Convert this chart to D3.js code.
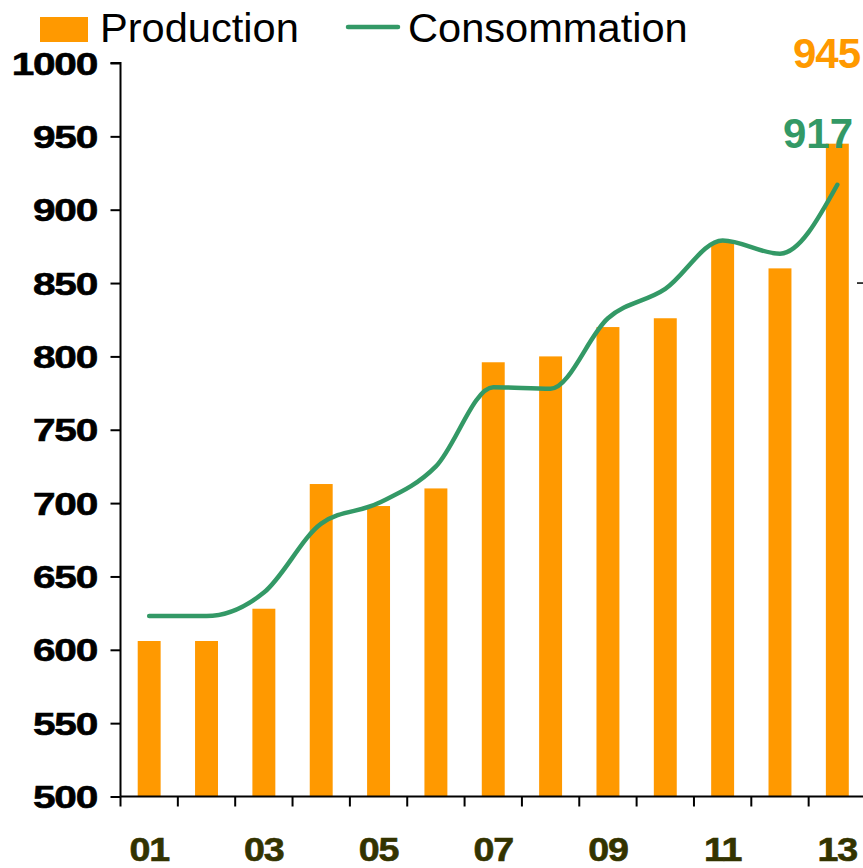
<!DOCTYPE html>
<html>
<head>
<meta charset="utf-8">
<script src="https://cdn.jsdelivr.net/npm/d3@7"></script>
<style>
  html, body { margin: 0; padding: 0; background: #fff; }
  svg { display: block; }
</style>
</head>
<body>
<svg id="chart" width="863" height="868"></svg>
<script>
// data
const years = ['01', '02', '03', '04', '05', '06', '07', '08', '09', '10', '11', '12', '13']
const production = [606, 606, 628, 713, 698, 710, 796, 800, 820, 826, 878, 860, 945]
const consommation = [623, 623, 639, 686, 700, 725, 779, 778, 826, 846, 879, 870, 917]
const yTicks = [500, 550, 600, 650, 700, 750, 800, 850, 900, 950, 1000]
const xLabels = ['01', '03', '05', '07', '09', '11', '13']

const ORANGE = '#FF9900'
const GREEN = '#339966'
const FONT = 'Liberation Sans, Arial, sans-serif'

const svg = d3.select('#chart')

const x = d3.scaleBand()
  .domain(years)
  .range([120.5, 866])
  .paddingInner(0.6)
  .paddingOuter(0.3)

const y = d3.scaleLinear()
  .domain([500, 1000])
  .range([796.5, 63])

const xCenter = (d) => x(d) + x.bandwidth() / 2

// bars
svg.append('g')
  .selectAll('rect')
  .data(years)
  .join('rect')
  .attr('x', (d) => x(d))
  .attr('width', x.bandwidth())
  .attr('y', (d, i) => y(production[i]))
  .attr('height', (d, i) => y(500) - y(production[i]))
  .attr('fill', ORANGE)

// smoothed consumption line
const line = d3.line()
  .x((d, i) => xCenter(years[i]))
  .y((d) => y(d))
  .curve(d3.curveMonotoneX)

svg.append('path')
  .datum(consommation)
  .attr('d', line)
  .attr('fill', 'none')
  .attr('stroke', GREEN)
  .attr('stroke-width', 4.5)
  .attr('stroke-linecap', 'round')

// y axis
const yAxis = svg.append('g')
  .attr('transform', `translate(${x.range()[0]},0)`)
  .call(d3.axisLeft(y).tickValues(yTicks).tickSize(10).tickFormat(''))
yAxis.selectAll('path, line').attr('stroke', '#000').attr('stroke-width', 2)
yAxis.select('.domain').attr('d', `M-10,${y(1000)}H0V${y(500)}`)

svg.append('g')
  .selectAll('text')
  .data(yTicks)
  .join('text')
  .attr('transform', (d) => `translate(97,${y(d)}) scale(1.27,1)`)
  .attr('text-anchor', 'end')
  .attr('dy', '0.36em')
  .attr('font-family', FONT)
  .attr('font-weight', 'bold')
  .attr('font-size', 32)
  .attr('letter-spacing', -1)
  .attr('fill', '#000')
  .attr('stroke', '#000')
  .attr('stroke-width', 0.6)
  .text((d) => d)

// x axis: ticks between categories
const xAxis = svg.append('g')
  .attr('transform', `translate(0,${y(500)})`)
const step = x.step()
const xEdges = d3.range(years.length + 1).map((i) => x.range()[0] + i * step)
xAxis.append('line')
  .attr('x1', x.range()[0]).attr('x2', x.range()[1])
  .attr('stroke', '#000').attr('stroke-width', 2)
xAxis.selectAll('line.tick')
  .data(xEdges)
  .join('line')
  .attr('class', 'tick')
  .attr('x1', (d) => d).attr('x2', (d) => d)
  .attr('y1', 0).attr('y2', 10)
  .attr('stroke', '#000').attr('stroke-width', 2)

svg.append('g')
  .selectAll('text')
  .data(xLabels)
  .join('text')
  .attr('transform', (d) => `translate(${xCenter(d)},861) scale(1.14,1)`)
  .attr('text-anchor', 'middle')
  .attr('font-family', FONT)
  .attr('font-weight', 'bold')
  .attr('font-size', 33)
  .attr('letter-spacing', -1)
  .attr('fill', '#333300')
  .attr('stroke', '#333300')
  .attr('stroke-width', 0.6)
  .text((d) => d)

// stray right tick at 850
svg.append('line')
  .attr('x1', 857).attr('x2', 866)
  .attr('y1', y(850)).attr('y2', y(850))
  .attr('stroke', '#000').attr('stroke-width', 1.5)

// end value labels
const last = years.length - 1
svg.append('text')
  .attr('x', 860).attr('y', 68)
  .attr('text-anchor', 'end')
  .attr('font-family', FONT).attr('font-weight', 'bold').attr('font-size', 42)
  .attr('letter-spacing', -1)
  .attr('fill', ORANGE)
  .text(production[last])

svg.append('text')
  .attr('x', 853).attr('y', 148)
  .attr('text-anchor', 'end')
  .attr('font-family', FONT).attr('font-weight', 'bold').attr('font-size', 42)
  .attr('letter-spacing', 0)
  .attr('fill', GREEN)
  .text(consommation[last])

// legend
const legend = svg.append('g')
legend.append('rect')
  .attr('x', 40).attr('y', 17).attr('width', 48).attr('height', 25)
  .attr('fill', ORANGE)
legend.append('text')
  .attr('transform', 'translate(100,42) scale(1.04,1)')
  .attr('font-family', FONT).attr('font-size', 40)
  .attr('fill', '#000')
  .text('Production')
legend.append('line')
  .attr('x1', 348).attr('x2', 398).attr('y1', 27).attr('y2', 27)
  .attr('stroke', GREEN).attr('stroke-width', 4.5).attr('stroke-linecap', 'round')
legend.append('text')
  .attr('transform', 'translate(408,42) scale(1.04,1)')
  .attr('font-family', FONT).attr('font-size', 40)
  .attr('fill', '#000')
  .text('Consommation')
</script>
</body>
</html>
